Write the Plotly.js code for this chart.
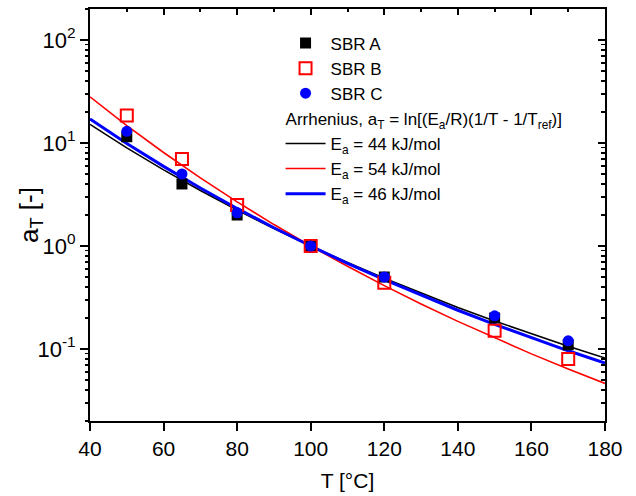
<!DOCTYPE html>
<html>
<head>
<meta charset="utf-8">
<script src="https://cdn.plot.ly/plotly-3.0.1.min.js"></script>
<style>html,body{margin:0;padding:0;background:#fff;}#chart{width:636px;height:496px;}</style>
</head>
<body>
<div id="chart"></div>
<script>
// Measured data points (temperature in °C, shift factor a_T)
const temps = [50, 65, 80, 100, 120, 150, 170];
const sbrA = [11.5, 4.0, 2.0, 1.0, 0.5, 0.2, 0.11];
const sbrB = [18.5, 7.0, 2.5, 1.0, 0.44, 0.15, 0.08];
const sbrC = [13.0, 5.0, 2.1, 1.0, 0.5, 0.21, 0.12];

// Arrhenius curves
const curveT = [40, 50, 60, 70, 80, 90, 100, 110, 120, 130, 140, 150, 160, 170, 180];
const fit44 = [15.15, 8.97, 5.49, 3.456, 2.233, 1.478, 1.0, 0.690, 0.486, 0.348, 0.2533, 0.1871, 0.1402, 0.1064, 0.0818];
const fit54 = [28.09, 14.77, 8.086, 4.581, 2.680, 1.615, 1.0, 0.635, 0.4126, 0.2739, 0.1854, 0.1278, 0.0897, 0.0640, 0.0463];
const fit46 = [17.14, 9.91, 5.933, 3.656, 2.316, 1.504, 1.0, 0.679, 0.4704, 0.3318, 0.2379, 0.1734, 0.1282, 0.0961, 0.0730];

const seriesNames = ['SBR A', 'SBR B', 'SBR C'];
const fitNames = ['E<sub>a</sub> = 44 kJ/mol', 'E<sub>a</sub> = 54 kJ/mol', 'E<sub>a</sub> = 46 kJ/mol'];
const fitGroupTitle = 'Arrhenius, a<sub>T</sub> = ln[(E<sub>a</sub>/R)(1/T - 1/T<sub>ref</sub>)]';
const xTitle = 'T [°C]';
const yTitle = 'a<sub>T</sub> [-]';
const yTickVals = [0.1, 1, 10, 100];
const yTickText = ['10<sup>-1</sup>', '10<sup>0</sup>', '10<sup>1</sup>', '10<sup>2</sup>'];
const xRange = [40, 180];
const yRange = [0.02, 200];

const FONT = 'Arial, "Liberation Sans", sans-serif';

// minor tick positions on the log axis (2..9 within each decade)
const yMinor = [];
[0.01, 0.1, 1, 10, 100].forEach(function (d) {
  for (let k = 2; k <= 9; k++) {
    const v = +(k * d).toPrecision(3);
    if (v >= yRange[0] && v <= yRange[1]) yMinor.push(v);
  }
});

const LFS = 17;
const traces = [
  {x: curveT, y: fit44, mode: 'lines', name: fitNames[0], line: {color: '#000000', width: 1.6},
   legendgroup: 'fit', legendgrouptitle: {text: fitGroupTitle, font: {size: LFS, family: FONT, color: '#000'}}, legendrank: 4},
  {x: curveT, y: fit54, mode: 'lines', name: fitNames[1], line: {color: '#ff0000', width: 1.6},
   legendgroup: 'fit', legendrank: 5},
  {x: curveT, y: fit46, mode: 'lines', name: fitNames[2], line: {color: '#0000ff', width: 3},
   legendgroup: 'fit', legendrank: 6},
  {x: temps, y: sbrA, mode: 'markers', name: seriesNames[0], legendgroup: 'data', legendrank: 1,
   marker: {symbol: 'square', size: 11, color: '#000000'}},
  {x: temps, y: sbrB, mode: 'markers', name: seriesNames[1], legendgroup: 'data', legendrank: 2,
   marker: {symbol: 'square-open', size: 12, color: '#ff0000', line: {width: 2, color: '#ff0000'}}},
  {x: temps, y: sbrC, mode: 'markers', name: seriesNames[2], legendgroup: 'data', legendrank: 3,
   marker: {symbol: 'circle', size: 11, color: '#0000ff'}},
  // empty helper traces so the frame / tick axes get drawn
  {x: [], y: [], xaxis: 'x2', yaxis: 'y', showlegend: false, hoverinfo: 'skip', mode: 'markers'},
  {x: [], y: [], xaxis: 'x', yaxis: 'y2', showlegend: false, hoverinfo: 'skip', mode: 'markers'},
  {x: [], y: [], xaxis: 'x', yaxis: 'y3', showlegend: false, hoverinfo: 'skip', mode: 'markers'},
  {x: [], y: [], xaxis: 'x', yaxis: 'y4', showlegend: false, hoverinfo: 'skip', mode: 'markers'}
];

const logR = [Math.log10(yRange[0]), Math.log10(yRange[1])];
const common = {showgrid: false, zeroline: false, linecolor: '#000', tickcolor: '#000', fixedrange: true};

const layout = {
  width: 636, height: 496,
  margin: {l: 90, r: 31, t: 9, b: 75},
  paper_bgcolor: '#fff', plot_bgcolor: '#fff',
  font: {family: FONT, size: 20, color: '#000'},
  showlegend: true,
  legend: {x: 0.37, y: 0.96, xanchor: 'left', yanchor: 'top', bgcolor: 'rgba(0,0,0,0)',
           font: {size: LFS, family: FONT}, tracegroupgap: 0, itemwidth: 40, traceorder: 'grouped'},
  xaxis: Object.assign({}, common, {range: xRange, dtick: 20, tick0: 40, showline: true, linewidth: 2,
          ticks: 'outside', ticklen: 8, tickwidth: 2,
          title: {text: xTitle, font: {size: 21}, standoff: 14}, tickfont: {size: 21}}),
  xaxis2: Object.assign({}, common, {range: xRange, overlaying: 'x', side: 'top', anchor: 'y', dtick: 20, tick0: 40,
           showline: true, linewidth: 2, ticks: 'inside', ticklen: 6, tickwidth: 2,
           minor: {ticks: 'inside', dtick: 10, ticklen: 3, tickwidth: 2},
           showticklabels: false}),
  yaxis: Object.assign({}, common, {type: 'log', range: logR, tickmode: 'array', tickvals: yTickVals, ticktext: yTickText,
          showline: true, linewidth: 2, ticks: 'outside', ticklen: 8, tickwidth: 2, tickfont: {size: 22}}),
  yaxis2: Object.assign({}, common, {type: 'log', range: logR, overlaying: 'y', side: 'right', anchor: 'x',
           tickmode: 'array', tickvals: yTickVals,
           showline: true, linewidth: 2, ticks: 'inside', ticklen: 7, tickwidth: 2, showticklabels: false}),
  yaxis3: Object.assign({}, common, {type: 'log', range: logR, overlaying: 'y', side: 'left', anchor: 'x',
           tickmode: 'array', tickvals: yMinor, showline: false, ticks: 'outside', ticklen: 4, tickwidth: 1.5,
           showticklabels: false}),
  yaxis4: Object.assign({}, common, {type: 'log', range: logR, overlaying: 'y', side: 'right', anchor: 'x',
           tickmode: 'array', tickvals: yMinor, showline: false, ticks: 'inside', ticklen: 4, tickwidth: 1.5,
           showticklabels: false}),
  annotations: [
    {text: yTitle, xref: 'paper', yref: 'paper', x: -0.1165, y: 0.5, xanchor: 'center', yanchor: 'middle',
     textangle: -90, showarrow: false, font: {size: 26, family: FONT, color: '#000'}}
  ]
};

Plotly.newPlot('chart', traces, layout, {displayModeBar: false, staticPlot: true});
</script>
</body>
</html>
